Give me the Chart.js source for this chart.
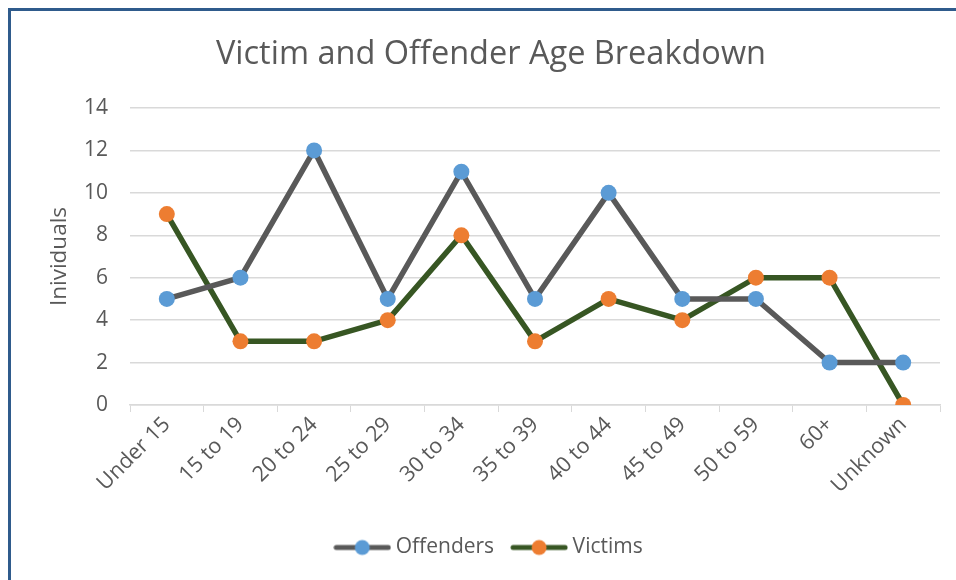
<!DOCTYPE html>
<html>
<head>
<meta charset="utf-8">
<script src="https://cdn.jsdelivr.net/npm/chart.js@4"></script>
<style>
  html, body { margin: 0; padding: 0; background: #fff; overflow: hidden; }
  #wrap { position: relative; width: 956px; height: 580px; overflow: hidden; }
  #frame { position: absolute; left: 8px; top: 8px; width: 1100px; height: 800px; border: 3px solid #2f5b8c; box-sizing: border-box; }
  canvas { position: absolute; left: 0; top: 0; }
</style>
</head>
<body>
<div id="wrap">
  <div id="frame"></div>
  <canvas id="ageChart" width="956" height="580"></canvas>
</div>
<script>
const categories = ['Under 15', '15 to 19', '20 to 24', '25 to 29', '30 to 34', '35 to 39', '40 to 44', '45 to 49', '50 to 59', '60+', 'Unknown'];
const offenders = [5, 6, 12, 5, 11, 5, 10, 5, 5, 2, 2];
const victims = [9, 3, 3, 4, 8, 3, 5, 4, 6, 6, 0];

const FONT = '"Open Sans", sans-serif';
const TEXT = '#595959';

// legend symbol: short thick line with a dot in the middle
function legendIcon(lineColor, dotColor) {
    const c = document.createElement('canvas');
    c.width = 58;
    c.height = 18;
    const g = c.getContext('2d');
    g.strokeStyle = lineColor;
    g.lineWidth = 5;
    g.lineCap = 'round';
    g.beginPath();
    g.moveTo(3, 9);
    g.lineTo(55, 9);
    g.stroke();
    g.fillStyle = dotColor;
    g.beginPath();
    g.arc(29, 9, 7.5, 0, Math.PI * 2);
    g.fill();
    return c;
}

const ctx = document.getElementById('ageChart').getContext('2d');

new Chart(ctx, {
    type: 'line',
    data: {
        labels: categories,
        datasets: [{
            label: 'Offenders',
            data: offenders,
            borderColor: '#595959',
            borderWidth: 5.5,
            pointBackgroundColor: '#5b9bd5',
            pointBorderColor: '#5b9bd5',
            pointRadius: 8,
            pointBorderWidth: 0,
            tension: 0
        }, {
            label: 'Victims',
            data: victims,
            borderColor: '#375623',
            borderWidth: 5.5,
            pointBackgroundColor: '#ed7d31',
            pointBorderColor: '#ed7d31',
            pointRadius: 8,
            pointBorderWidth: 0,
            tension: 0
        }]
    },
    options: {
        responsive: false,
        animation: false,
        layout: { padding: { left: 42, right: 16, top: 0, bottom: 12 } },
        plugins: {
            title: {
                display: true,
                text: 'Victim and Offender Age Breakdown',
                color: TEXT,
                font: { family: FONT, size: 32.5, weight: 'normal' },
                padding: { top: 35, bottom: 34 }
            },
            legend: {
                position: 'bottom',
                labels: {
                    color: TEXT,
                    font: { family: FONT, size: 21 },
                    usePointStyle: true,
                    pointStyleWidth: 46,
                    padding: 22,
                    generateLabels: function (chart) {
                        const icons = [legendIcon('#595959', '#5b9bd5'), legendIcon('#375623', '#ed7d31')];
                        return chart.data.datasets.map((ds, i) => ({
                            text: ds.label,
                            pointStyle: icons[i],
                            fontColor: TEXT,
                            datasetIndex: i,
                            hidden: false,
                            lineWidth: 0
                        }));
                    }
                }
            },
            tooltip: { enabled: false }
        },
        scales: {
            x: {
                offset: true,
                grid: {
                    offset: true,
                    drawOnChartArea: false,
                    drawTicks: true,
                    tickLength: 7,
                    color: '#d9d9d9'
                },
                border: { color: '#d9d9d9', width: 1.5 },
                ticks: {
                    color: TEXT,
                    font: { family: FONT, size: 21.5 },
                    minRotation: 45,
                    maxRotation: 45,
                    padding: 0
                },
                afterFit: function (axis) { axis.height = 110; }
            },
            y: {
                min: 0,
                max: 14,
                ticks: {
                    stepSize: 2,
                    color: TEXT,
                    font: { family: FONT, size: 21 },
                    padding: 22
                },
                grid: { color: '#d9d9d9', lineWidth: 1.5, drawTicks: false },
                border: { display: false },
                title: {
                    display: true,
                    text: 'Inividuals',
                    color: TEXT,
                    font: { family: FONT, size: 22.5 },
                    padding: { top: 4, bottom: 0 }
                },
                afterFit: function (axis) { axis.width = 88; }
            }
        }
    }
});
</script>
</body>
</html>
